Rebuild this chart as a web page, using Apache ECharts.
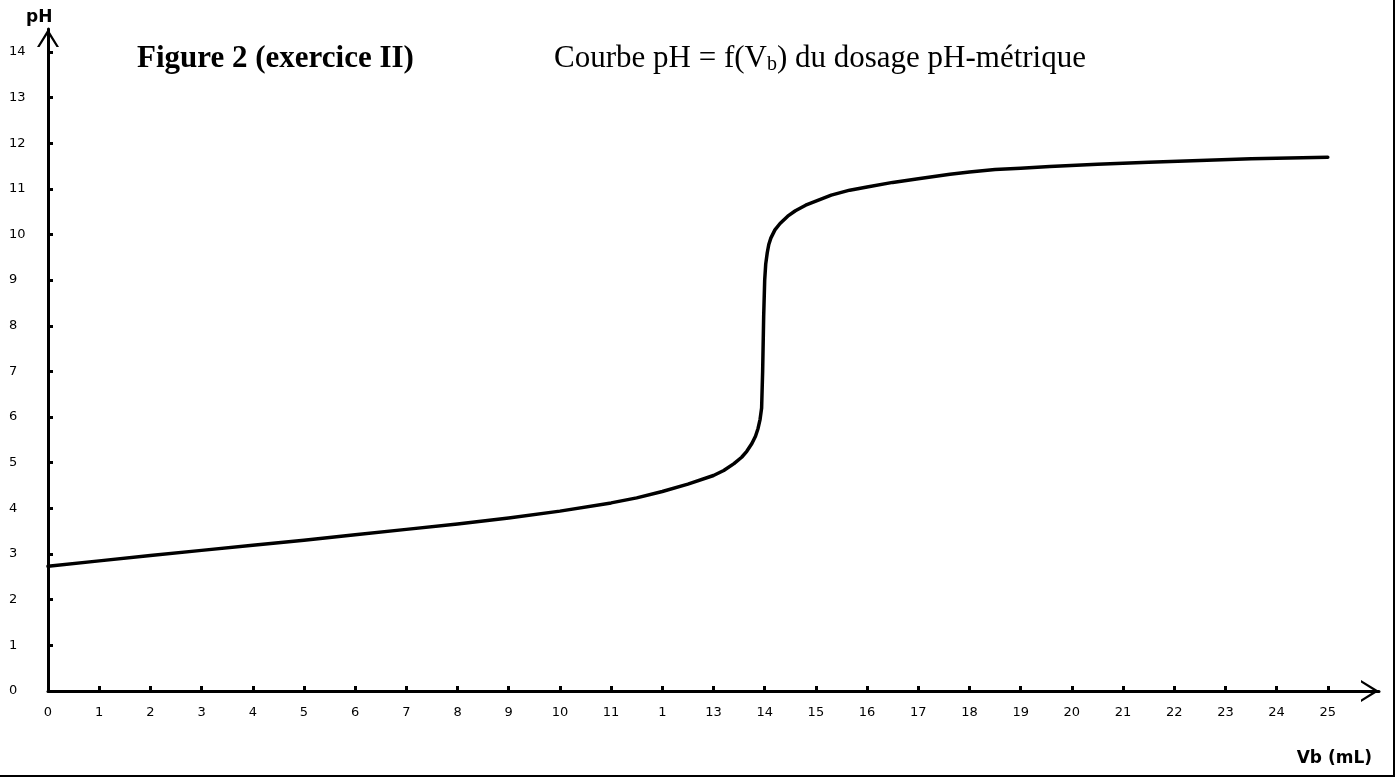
<!DOCTYPE html>
<html>
<head>
<meta charset="UTF-8">
<title>Courbe pH = f(Vb)</title>
<script src="https://cdn.jsdelivr.net/npm/echarts@6/dist/echarts.min.js"></script>
<style>
  html, body { margin: 0; padding: 0; background: #fff; }
  #chart { width: 1398px; height: 778px; }
</style>
</head>
<body>
<div id="chart"></div>
<script>
var vb = [0, 1, 2, 3, 4, 5, 6, 7, 8, 9, 10, 11, 11.5, 12, 12.5, 13, 13.2, 13.4, 13.55, 13.65,
  13.75, 13.82, 13.87, 13.91, 13.94, 13.96, 13.98, 14.0, 14.02, 14.05, 14.08, 14.12, 14.2, 14.3,
  14.45, 14.6, 14.8, 15, 15.3, 15.66, 16, 16.5, 17, 17.62, 18, 18.5, 19, 19.57, 20.5, 21.5,
  22.5, 23.5, 25];
var ph = [2.73, 2.85, 2.97, 3.08, 3.19, 3.30, 3.42, 3.54, 3.66, 3.79, 3.94, 4.12, 4.23, 4.37, 4.53, 4.72, 4.83, 4.98, 5.12, 5.25,
  5.42, 5.58, 5.75, 5.95, 6.2, 7.0, 8.2, 9.0, 9.35, 9.6, 9.78, 9.92, 10.1, 10.24,
  10.4, 10.52, 10.64, 10.73, 10.86, 10.97, 11.04, 11.14, 11.22, 11.32, 11.37, 11.42, 11.45, 11.49, 11.54, 11.58,
  11.62, 11.66, 11.69];

// graduations
var xTicks = [0, 1, 2, 3, 4, 5, 6, 7, 8, 9, 10, 11, 12, 13, 14, 15, 16, 17, 18, 19, 20, 21, 22, 23, 24, 25];
var xTickLabels = ['0', '1', '2', '3', '4', '5', '6', '7', '8', '9', '10', '11', '1', '13', '14', '15', '16',
  '17', '18', '19', '20', '21', '22', '23', '24', '25'];
var yTicks = [0, 1, 2, 3, 4, 5, 6, 7, 8, 9, 10, 11, 12, 13, 14];

var pts = [];
for (var i = 0; i < vb.length; i++) pts.push([vb[i], ph[i]]);

// flèche ouverte (chevron) au bout des axes
var chevron = 'path://M0,18 L11,0 L22,18 L19.5,18 L11,4.5 L2.5,18 Z';

var myChart = echarts.init(document.getElementById('chart'));
var option = {
  animation: false,
  backgroundColor: '#fff',
  title: [{
    text: 'Figure 2 (exercice II)',
    left: 132, top: 38,
    textStyle: { fontFamily: 'Liberation Serif', fontWeight: 'bold', fontSize: 31, color: '#000' }
  }, {
    text: '{a|Courbe pH = f(V}{s|b}{a|) du dosage pH-métrique}',
    left: 549, top: 38,
    textStyle: {
      rich: {
        a: { fontFamily: 'Liberation Serif', fontWeight: 'normal', fontSize: 31, color: '#000' },
        s: { fontFamily: 'Liberation Serif', fontWeight: 'normal', fontSize: 20, color: '#000', padding: [12, 0, 0, 0] }
      }
    }
  }, {
    text: 'pH',
    left: 21, top: 4,
    textStyle: { fontFamily: 'DejaVu Sans', fontWeight: 'bold', fontSize: 17, color: '#000' }
  }, {
    text: 'Vb (mL)',
    right: 21, top: 745,
    textStyle: { fontFamily: 'DejaVu Sans', fontWeight: 'bold', fontSize: 17, color: '#000' }
  }],
  grid: { left: 48, right: 19, top: 29, bottom: 87 },
  xAxis: {
    type: 'value', min: 0, max: 26,
    splitLine: { show: false },
    axisLine: {
      lineStyle: { color: '#000', width: 3 },
      symbol: ['none', chevron], symbolSize: [22, 18], symbolOffset: [0, -9]
    },
    axisTick: { inside: true, length: 5, customValues: xTicks, lineStyle: { color: '#000', width: 3 } },
    axisLabel: {
      customValues: xTicks, margin: 15,
      fontFamily: 'DejaVu Sans', fontSize: 13, color: '#000',
      formatter: function (v) { return xTickLabels[xTicks.indexOf(v)]; }
    }
  },
  yAxis: {
    type: 'value', min: 0, max: 14.5,
    splitLine: { show: false },
    axisLine: {
      lineStyle: { color: '#000', width: 3 },
      symbol: ['none', chevron], symbolSize: [22, 18], symbolOffset: [0, -9]
    },
    axisTick: { inside: true, length: 5, customValues: yTicks, lineStyle: { color: '#000', width: 3 } },
    axisLabel: {
      customValues: yTicks, margin: 39, align: 'left',
      fontFamily: 'DejaVu Sans', fontSize: 13, color: '#000'
    }
  },
  series: [{
    type: 'line',
    data: pts,
    showSymbol: false,
    smooth: false,
    lineStyle: { color: '#000', width: 3.5, join: 'round', cap: 'round' }
  }],
  graphic: [{
    type: 'line', shape: { x1: 1394, y1: 0, x2: 1394, y2: 776 },
    style: { stroke: '#000', lineWidth: 2 }
  }, {
    type: 'line', shape: { x1: 0, y1: 776, x2: 1395, y2: 776 },
    style: { stroke: '#000', lineWidth: 2 }
  }]
};
myChart.setOption(option);
</script>
</body>
</html>
